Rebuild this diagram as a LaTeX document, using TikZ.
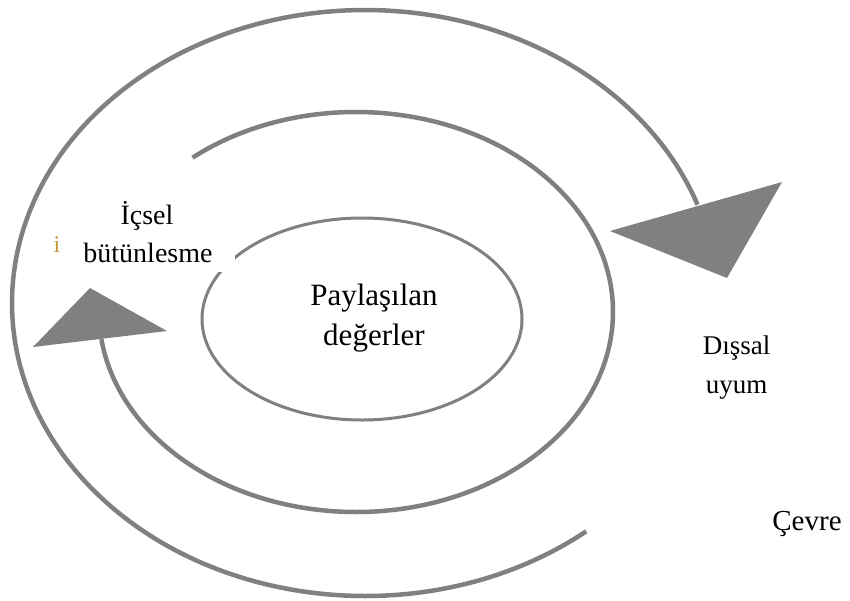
\documentclass[tikz,border=0pt]{standalone}
\usepackage{fontspec}
\setmainfont{Liberation Serif}
\definecolor{loopgray}{HTML}{808080}
\definecolor{stray}{HTML}{C8963C}
\begin{document}
\begin{tikzpicture}[x=1pt,y=-1pt,
  loop/.style={draw=loopgray, line width=4.5pt},
  head/.style={fill=loopgray},
  lbl/.style={anchor=base, inner sep=0pt, text=black},
  mask/.style={fill=white, inner sep=0pt}]
\useasboundingbox (0,0) rectangle (850,600);

% outer loop: environment feedback, ending in the right arrowhead
\draw[loop] (365,303) ++(51.2:353 and 293)
  arc[start angle=51.2, end angle=340.4, x radius=353, y radius=293];
\fill[head] (610,231) -- (782,182) -- (727,278) -- cycle;

% middle loop, ending in the left arrowhead
\draw[loop] (356,312) ++(230.5:257 and 200)
  arc[start angle=230.5, end angle=532.2, x radius=257, y radius=200];
\fill[head] (33,347) -- (90,288) -- (167,331) -- cycle;

% core values
\draw[draw=loopgray, line width=3pt] (362,319) ellipse [x radius=160, y radius=101];
\node[lbl, font=\fontsize{31}{31}\selectfont] (pay) at (374,305) {Paylaşılan};
\node[lbl, font=\fontsize{31}{31}\selectfont] (deg) at (374,345) {değerler};

% internal integration label on its white panel
\node[lbl, text=stray, font=\fontsize{24}{24}\selectfont] (stray) at (57,252) {i};
\node[mask, minimum width=175pt, minimum height=84pt] (icselbox) at (147.5,230) {};
\node[lbl, font=\fontsize{28}{28}\selectfont] (icsel) at (147,224) {İçsel};
\node[lbl, font=\fontsize{28}{28}\selectfont] (butun) at (148,262) {bütünlesme};

% external adaptation and environment
\node[lbl, font=\fontsize{27}{27}\selectfont] (dissal) at (736.5,354) {Dışsal};
\node[lbl, font=\fontsize{27}{27}\selectfont] (uyum) at (736.5,393) {uyum};
\node[lbl, font=\fontsize{29}{29}\selectfont] (cevre) at (807,530) {Çevre};
\end{tikzpicture}
\end{document}
